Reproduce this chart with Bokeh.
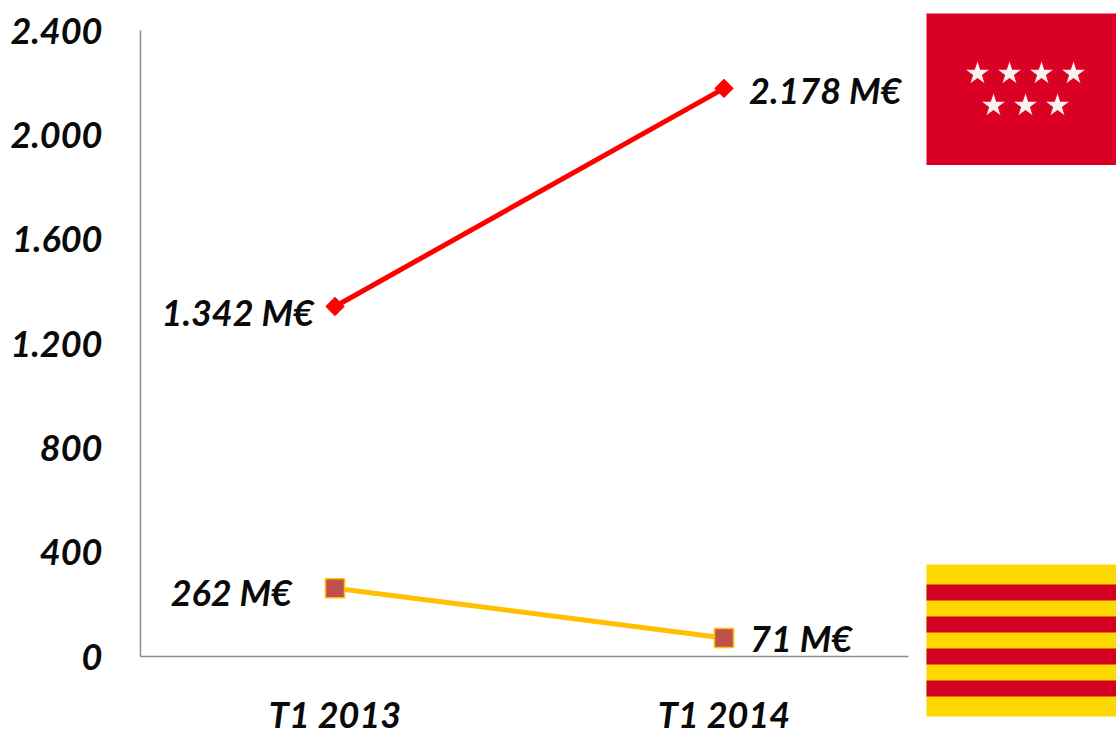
import math
from bokeh.plotting import figure
from bokeh.models import Range1d, FixedTicker, LinearAxis
from bokeh.core.properties import value
from bokeh.embed import file_html
from bokeh.resources import INLINE

categories = ["T1 2013", "T1 2014"]
madrid = [1342, 2178]
cataluna = [262, 71]
madrid_labels = ["1.342 M€", "2.178 M€"]
cataluna_labels = ["262 M€", "71 M€"]
y_ticks = [0, 400, 800, 1200, 1600, 2000, 2400]
y_tick_labels = ["0", "400", "800", "1.200", "1.600", "2.000", "2.400"]

FONT = "Lato"
FS = "36px"
INK = "#0a0a0a"
x = [0, 1]

W, H = 1116, 734
X0, XU = 334.5, 389          # canvas x of the first category, pixels per category
Y0, YU = 656, 626 / 2400     # canvas y of value 0, pixels per value unit

def cx(px):
    return (px - X0) / XU

def cy(py):
    return (Y0 - py) / YU

p = figure(width=W, height=H, output_backend="svg", toolbar_location=None,
           x_range=Range1d(cx(0), cx(W)), y_range=Range1d(cy(H), cy(0)),
           x_axis_type=None, y_axis_type=None, min_border=0)
p.grid.visible = False
p.outline_line_color = None

xaxis = LinearAxis(fixed_location=0, bounds=(cx(140), cx(908)), ticker=FixedTicker(ticks=x),
                   major_label_overrides=dict(zip(x, categories)), major_label_standoff=29)
yaxis = LinearAxis(fixed_location=cx(140), bounds=(0, 2400), ticker=FixedTicker(ticks=y_ticks),
                   major_label_overrides=dict(zip(y_ticks, y_tick_labels)), major_label_standoff=32)
for ax, side in ((xaxis, "below"), (yaxis, "left")):
    ax.axis_line_color = "#8c8c8c"
    ax.axis_line_width = 1.5
    ax.major_tick_line_color = None
    ax.minor_tick_line_color = None
    ax.major_label_text_font = FONT
    ax.major_label_text_font_style = "bold italic"
    ax.major_label_text_font_size = FS
    ax.major_label_text_color = INK
    p.add_layout(ax, side)

p.line(x, madrid, line_color="#ff0000", line_width=5)
p.scatter(x, madrid, marker="square", angle=math.pi / 4, size=13, fill_color="#ff0000", line_color="#ff0000")
p.line(x, cataluna, line_color="#ffc000", line_width=5)
p.scatter(x, cataluna, marker="square", size=19, fill_color="#c0504d", line_color="#ffc000", line_width=1.5)

def label(xv, yv, txt, align, dx, dy):
    p.text([xv], [yv], text=[txt], text_align=align, text_baseline="middle",
           x_offset=dx, y_offset=dy, text_font=value(FONT), text_font_style="bold italic",
           text_font_size=FS, text_color=INK)

label(x[0], madrid[0], madrid_labels[0], "right", -21, 6)
label(x[1], madrid[1], madrid_labels[1], "left", 25, 2)
label(x[0], cataluna[0], cataluna_labels[0], "right", -43, 4)
label(x[1], cataluna[1], cataluna_labels[1], "left", 26, 0)

# Flags
FL, FR = cx(926), cx(W)
p.quad(left=[FL], right=[FR], top=[cy(13)], bottom=[cy(164.5)], fill_color="#da0024", line_color=None)
star_px = [977, 1009, 1041, 1073, 993, 1025, 1057]
star_py = [73, 73, 73, 73, 105, 105, 105]
p.scatter([cx(v) for v in star_px], [cy(v) for v in star_py], marker="star", size=24,
          fill_color="#f6f2f2", line_color=None)
p.quad(left=[FL], right=[FR], top=[cy(564)], bottom=[cy(716)], fill_color="#fcd800", line_color=None)
stripe_top = [584, 616, 648, 680]
stripe_bot = [600, 632, 664, 696]
p.quad(left=FL, right=FR, top=[cy(v) for v in stripe_top], bottom=[cy(v) for v in stripe_bot],
       fill_color="#d4001f", line_color=None)

open("out.html", "w").write(file_html(p, INLINE))
